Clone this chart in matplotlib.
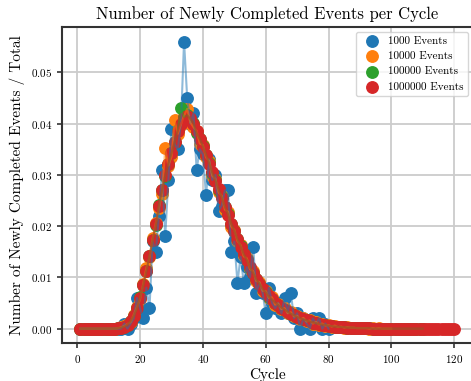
import matplotlib
matplotlib.use("Agg")
import matplotlib.pyplot as plt

plt.rcParams["font.family"] = "serif"
plt.rcParams["font.serif"] = ["cmr10"]
plt.rcParams["mathtext.fontset"] = "cm"
plt.rcParams["axes.formatter.use_mathtext"] = True

labels = ["1000 Events", "10000 Events", "100000 Events", "1000000 Events"]
colors = ["#1f77b4", "#ff7f0e", "#2ca02c", "#d62728"]

# fraction of events completed in each cycle, cycles start at 1
events_1e3 = [
    0, 0, 0, 0, 0, 0, 0, 0, 0, 0,
    0, 0, 0, 0, 0.001, 0.000, 0.001, 0.002, 0.006, 0.004,
    0.002, 0.008, 0.004, 0.017, 0.015, 0.022, 0.031, 0.018, 0.029, 0.039,
    0.036, 0.035, 0.040, 0.056, 0.045, 0.040, 0.042, 0.031, 0.035, 0.034,
    0.026, 0.033, 0.029, 0.030, 0.023, 0.024, 0.027, 0.027, 0.015, 0.017,
    0.009, 0.014, 0.009, 0.012, 0.010, 0.016, 0.007, 0.009, 0.007, 0.003,
    0.008, 0.005, 0.004, 0.005, 0.003, 0.006, 0.003, 0.007, 0.002, 0.003,
    0.000, 0.002, 0.001, 0.000, 0.002, 0.001, 0.002, 0.000, 0.001, 0.000,
]
events_1e4 = [
    0, 0, 0, 0, 0, 0, 0, 0, 0, 0,
    0, 0, 0.0001, 0.0003, 0.0005, 0.0009, 0.0013, 0.0027, 0.0042, 0.0057,
    0.0088, 0.0118, 0.0139, 0.0176, 0.0206, 0.0236, 0.0262, 0.0352, 0.0318, 0.0335,
    0.0406, 0.0380, 0.0398, 0.0415, 0.0429, 0.0402, 0.0393, 0.0386, 0.0361, 0.0358,
    0.0334, 0.0327, 0.0298, 0.0292, 0.0266, 0.0259, 0.0232, 0.0228, 0.0199, 0.0193,
    0.0171, 0.0163, 0.0141, 0.0137, 0.0116, 0.0112, 0.0093, 0.0091, 0.0074, 0.0073,
    0.0060, 0.0061, 0.0047, 0.0049, 0.0038, 0.0040, 0.0030, 0.0032, 0.0024, 0.0025,
    0.0018, 0.0021, 0.0014, 0.0016, 0.0010, 0.0013, 0.0008, 0.0010, 0.0006, 0.0007,
    0.0004, 0.0006, 0.0003, 0.0004, 0.0002, 0.0003, 0.0002, 0.0002, 0.0001, 0.0001,
    0.0001, 0.0001, 0.0000, 0.0001, 0.0000, 0.0001, 0.0000, 0.0000, 0.0000, 0.0000,
]
events_1e5 = [
    0, 0, 0, 0, 0, 0, 0, 0, 0, 0,
    0, 0, 0.00010, 0.00022, 0.00041, 0.00079, 0.00148, 0.00252, 0.00395, 0.00608,
    0.00844, 0.01125, 0.01418, 0.01727, 0.02012, 0.02405, 0.02695, 0.02980, 0.03215, 0.03420,
    0.03640, 0.03870, 0.04300, 0.04120, 0.04160, 0.04090, 0.04010, 0.03810, 0.03700, 0.03560,
    0.03390, 0.03230, 0.03040, 0.02890, 0.02710, 0.02560, 0.02380, 0.02230, 0.02050, 0.01910,
    0.01740, 0.01610, 0.01450, 0.01340, 0.01190, 0.01090, 0.00960, 0.00880, 0.00770, 0.00710,
    0.00620, 0.00570, 0.00510, 0.00460, 0.00410, 0.00370, 0.00330, 0.00290, 0.00260, 0.00230,
    0.00200, 0.00180, 0.00160, 0.00140, 0.00120, 0.00110, 0.00090, 0.00080, 0.00070, 0.00060,
    0.00050, 0.00040, 0.00040, 0.00030, 0.00030, 0.00020, 0.00020, 0.00020, 0.00010, 0.00010,
    0.00010, 0.00010, 0.00010, 0.00000, 0.00000, 0.00000, 0.00000, 0.00000, 0.00000, 0.00000,
    0, 0, 0, 0, 0, 0, 0, 0, 0, 0,
]
events_1e6 = [
    0, 0, 0, 0, 0, 0, 0, 0, 0, 0,
    0, 0, 0.0001, 0.0002, 0.0004, 0.0008, 0.0015, 0.0025, 0.0040, 0.0060,
    0.0085, 0.0112, 0.0142, 0.0172, 0.0205, 0.0240, 0.0270, 0.0300, 0.0322, 0.0343,
    0.0365, 0.0385, 0.0400, 0.0410, 0.0415, 0.0410, 0.0400, 0.0385, 0.0370, 0.0355,
    0.0338, 0.0322, 0.0305, 0.0288, 0.0272, 0.0255, 0.0238, 0.0222, 0.0205, 0.0190,
    0.0175, 0.0160, 0.0146, 0.0133, 0.0120, 0.0108, 0.0097, 0.0087, 0.0078, 0.0070,
    0.0063, 0.0057, 0.0051, 0.0046, 0.0041, 0.0037, 0.0033, 0.0029, 0.0026, 0.0023,
    0.0020, 0.0018, 0.0016, 0.0014, 0.0012, 0.0011, 0.0009, 0.0008, 0.0007, 0.0006,
    0.0005, 0.0004, 0.0004, 0.0003, 0.0003, 0.0002, 0.0002, 0.0002, 0.0001, 0.0001,
    0.0001, 0.0001, 0.0001, 0, 0, 0, 0, 0, 0, 0,
    0, 0, 0, 0, 0, 0, 0, 0, 0, 0,
    0, 0, 0, 0, 0, 0, 0, 0, 0, 0,
]
series = [events_1e3, events_1e4, events_1e5, events_1e6]

fig = plt.figure(figsize=(4.71, 3.81), dpi=100)
ax = fig.add_axes([0.131, 0.0997, 0.873, 0.829])

# scatter first, thin alpha lines end up on top of all the markers
for vals, lab, col in zip(series, labels, colors):
    cycles = list(range(1, len(vals) + 1))
    ax.scatter(cycles, vals, s=68, color=col, label=lab, zorder=1.5)
    ax.plot(cycles, vals, color=col, alpha=0.5, lw=1.5, zorder=2)

ax.grid(True, color="#cccccc", lw=1.3)
ax.set_axisbelow(True)
for side in ["left", "bottom", "top", "right"]:
    ax.spines[side].set_color("#333333")
    ax.spines[side].set_linewidth(1.5)
ax.tick_params(labelsize=8, color="#333333", width=1.2)

ax.set_title("Number of Newly Completed Events per Cycle", fontsize=12)
ax.set_xlabel("Cycle", fontsize=11, labelpad=2)
ax.set_ylabel("Number of Newly Completed Events / Total", fontsize=11)
ax.legend(loc="upper right", fontsize=8, handletextpad=0.5, borderaxespad=0.4)

fig.savefig("out.png", dpi=100)
